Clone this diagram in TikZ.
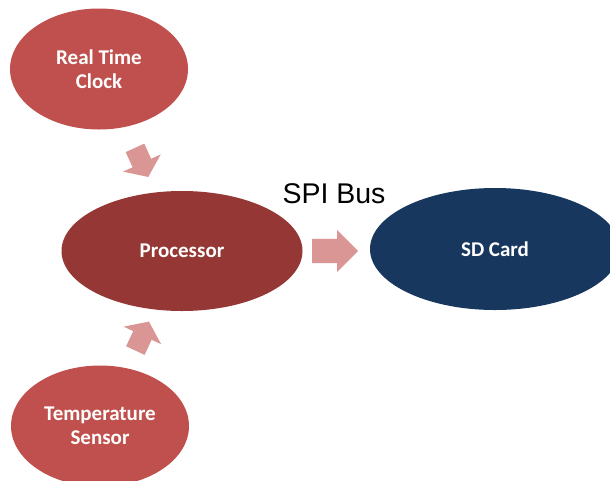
\documentclass[tikz,border=0pt]{standalone}
\usepackage{fontspec}
\setmainfont{Carlito}
\newfontfamily\busfont{Liberation Sans}
\usetikzlibrary{shapes.geometric,shapes.arrows}

\definecolor{redfill}{HTML}{C0504D}
\definecolor{darkred}{HTML}{953735}
\definecolor{navy}{HTML}{17375E}
\definecolor{pinkarrow}{HTML}{D99694}

\tikzset{
  blob/.style={ellipse, draw=none, inner sep=0pt, text=white, align=center,
    font=\bfseries\fontsize{21}{24}\selectfont},
  smallblob/.style={blob, fill=redfill, minimum width=178pt, minimum height=121pt},
  bigblob/.style={blob, minimum width=241pt, minimum height=120pt},
  flowarrow/.style={single arrow, fill=pinkarrow, draw=none, sloped, allow upside down,
    inner xsep=0pt},
  diagarrow/.style={flowarrow, inner ysep=10pt, single arrow head extend=10.5pt,
    single arrow tip angle=107, minimum height=32pt},
  busarrow/.style={flowarrow, inner ysep=12pt, single arrow head extend=9pt,
    single arrow tip angle=90, minimum height=46pt},
}

\begin{document}
\begin{tikzpicture}[x=1pt,y=-1pt]
  \useasboundingbox (0,0) rectangle (610,480);
  \clip (0,0) rectangle (610,480);

  \node[smallblob] (rtc) at (99,69) {Real Time\\Clock};
  \node[bigblob, fill=darkred] (proc) at (182,251) {Processor};
  \node[bigblob, fill=navy, minimum width=250pt, minimum height=122pt] (sd) at (495,249) {SD Card};
  \node[smallblob] (temp) at (100,426) {Temperature\\Sensor};

  \path (rtc) -- node[diagarrow, pos=0.49] (a1) {} (proc);
  \path (temp) -- node[diagarrow, pos=0.49] (a2) {} (proc);
  \path (proc.center) -- node[busarrow, pos=0.47] (a3) {} (sd.center |- proc.center);

  \node[font=\busfont\fontsize{28.5}{30}\selectfont, anchor=base, inner sep=0pt]
    (bus) at (334,203) {SPI Bus};
\end{tikzpicture}
\end{document}
